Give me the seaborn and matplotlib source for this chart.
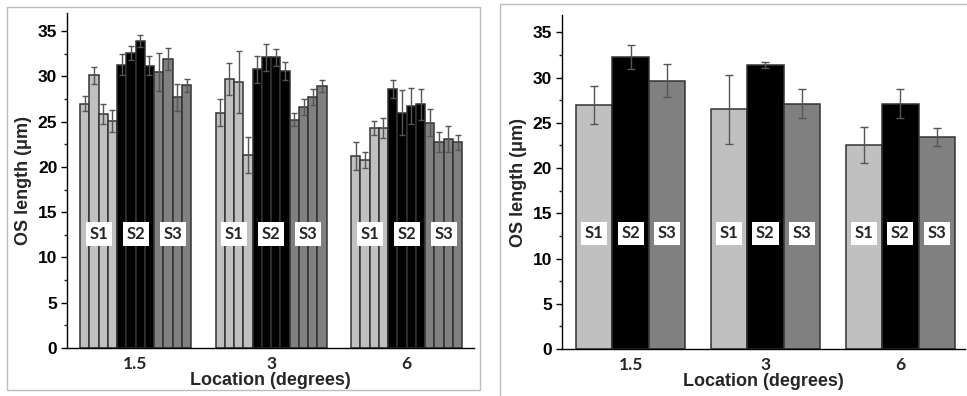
import numpy as np
import pandas as pd
import matplotlib
matplotlib.use("Agg")
import matplotlib.pyplot as plt
from matplotlib.patches import Rectangle
from matplotlib.ticker import MultipleLocator
import seaborn as sns

# --- data ---
locations = ["1.5", "3", "6"]
subjects = ["S1", "S2", "S3"]

# left panel: 4 bars per subject per location
left_vals = {
    "1.5": [27.0, 30.1, 25.8, 25.1, 31.3, 32.6, 33.9, 31.2, 30.5, 31.9, 27.7, 29.0],
    "3":   [26.0, 29.7, 29.4, 21.3, 30.8, 32.1, 32.1, 30.6, 25.2, 26.6, 27.7, 28.95],
    "6":   [21.2, 20.8, 24.3, 24.3, 28.6, 26.0, 26.75, 26.9, 24.9, 22.75, 23.1, 22.7],
}
left_errs = {
    "1.5": [0.8, 0.9, 1.1, 1.2, 1.15, 0.8, 0.7, 1.0, 2.1, 1.2, 1.5, 0.7],
    "3":   [1.45, 1.8, 3.4, 2.0, 1.5, 1.5, 0.9, 1.0, 0.7, 0.9, 0.9, 0.65],
    "6":   [1.5, 0.9, 0.8, 1.1, 1.0, 2.45, 2.0, 1.7, 1.45, 1.15, 1.45, 0.85],
}

# right panel: subject means
right_vals = {
    "S1": [27.0, 26.5, 22.55],
    "S2": [32.25, 31.4, 27.1],
    "S3": [29.65, 27.1, 23.4],
}
right_errs = {
    "S1": [2.1, 3.8, 1.95],
    "S2": [1.3, 0.35, 1.6],
    "S3": [1.8, 1.6, 1.0],
}

subj_colors = {"S1": "#c0c0c0", "S2": "#000000", "S3": "#808080"}

# --- tidy tables ---
bar_ids = [f"{s}_{i}" for s in subjects for i in range(4)]
rows = []
for loc in locations:
    for j, b in enumerate(bar_ids):
        rows.append({"loc": loc, "bar": b, "val": left_vals[loc][j], "err": left_errs[loc][j]})
df_left = pd.DataFrame(rows)

rows = []
for s in subjects:
    for k, loc in enumerate(locations):
        rows.append({"loc": loc, "subj": s, "val": right_vals[s][k], "err": right_errs[s][k]})
df_right = pd.DataFrame(rows)

sns.set_style("white")
plt.rcParams["font.family"] = ["Liberation Sans", "DejaVu Sans"]

fig = plt.figure(figsize=(9.67, 3.96), dpi=100)

# panel frames
fig.patches.append(Rectangle((0.0072, 0.015), 0.4892, 0.967, transform=fig.transFigure,
                             fill=False, edgecolor="#bdbdbd", linewidth=1))
fig.patches.append(Rectangle((0.517, -0.05), 0.6, 1.04, transform=fig.transFigure,
                             fill=False, edgecolor="#bdbdbd", linewidth=1))

ax1 = fig.add_axes([0.0693, 0.1212, 0.421, 0.846])
ax2 = fig.add_axes([0.581, 0.1187, 0.417, 0.843])

left_palette = {b: subj_colors[b.split("_")[0]] for b in bar_ids}
sns.barplot(data=df_left, x="loc", y="val", hue="bar", hue_order=bar_ids, order=locations,
            palette=left_palette, width=0.82, errorbar=None, edgecolor="#333333",
            linewidth=1.1, legend=False, ax=ax1)
sns.barplot(data=df_right, x="loc", y="val", hue="subj", hue_order=subjects,
            order=locations, palette=subj_colors, width=0.81, errorbar=None,
            edgecolor="#333333", linewidth=1.1, legend=False, ax=ax2)


def add_errors(ax, df, hue_col, hue_order, capsize):
    for cont, h in zip(ax.containers, hue_order):
        sub = df[df[hue_col] == h].set_index("loc").loc[locations]
        xs = [p.get_x() + p.get_width() / 2 for p in cont.patches]
        ax.errorbar(xs, sub["val"].values, yerr=sub["err"].values, fmt="none",
                    ecolor="#555555", elinewidth=1, capsize=capsize, capthick=1, zorder=3)


add_errors(ax1, df_left, "bar", bar_ids, 2.5)
add_errors(ax2, df_right, "subj", subjects, 3)


def add_subject_labels(ax, groups, y):
    # groups: list of (subject, list of containers) -> label centred on them
    for s, conts in groups:
        for k in range(len(locations)):
            xs = [c.patches[k].get_x() + c.patches[k].get_width() / 2 for c in conts]
            ax.text(np.mean(xs), y, s, ha="center", va="center", fontsize=12,
                    fontweight="bold", family=["Lato", "DejaVu Sans"], zorder=4,
                    bbox=dict(boxstyle="square,pad=0.22", facecolor="white", edgecolor="none"))


add_subject_labels(ax1, [(s, ax1.containers[4 * i:4 * i + 4]) for i, s in enumerate(subjects)], 12.6)
add_subject_labels(ax2, [(s, [ax2.containers[i]]) for i, s in enumerate(subjects)], 12.8)

for ax, ytop, xl in [(ax1, 37.0, (-0.506, 2.498)), (ax2, 36.9, (-0.51, 2.48))]:
    ax.set_ylim(0, ytop)
    ax.set_xlim(*xl)
    ax.yaxis.set_major_locator(MultipleLocator(5))
    ax.yaxis.set_minor_locator(MultipleLocator(2.5))
    ax.tick_params(axis="y", which="major", direction="out", length=4, width=1,
                   labelsize=12.5, left=True, colors="black", pad=3)
    ax.tick_params(axis="y", which="minor", direction="out", length=2.5, width=1, left=True)
    ax.tick_params(axis="x", length=0, pad=6)
    for lbl in ax.get_yticklabels():
        lbl.set_fontweight("bold")
    for lbl in ax.get_xticklabels():
        lbl.set_fontweight("bold")
        lbl.set_fontsize(12.5)
        lbl.set_family(["Lato", "DejaVu Sans"])
    sns.despine(ax=ax)
    for sp in ["left", "bottom"]:
        ax.spines[sp].set_color("black")
        ax.spines[sp].set_linewidth(1)
    ax.set_xlabel("Location (degrees)", fontsize=13, fontweight="bold", labelpad=0)
    ax.set_ylabel("OS length (\u03bcm)", fontsize=13, fontweight="bold", labelpad=4)

fig.savefig("out.png", dpi=100)
